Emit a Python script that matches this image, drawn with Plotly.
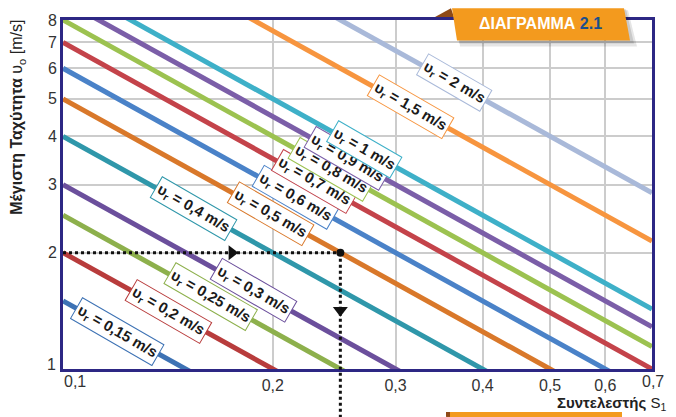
import numpy as np
import plotly.graph_objects as go

# ---------------- data ----------------
ur_values = [0.15, 0.2, 0.25, 0.3, 0.4, 0.5, 0.6, 0.7, 0.8, 0.9, 1.0, 1.5, 2.0]
ur_labels = ["0,15", "0,2", "0,25", "0,3", "0,4", "0,5", "0,6", "0,7", "0,8", "0,9", "1", "1,5", "2"]
line_colors = ["#3d72b4", "#b83c3c", "#8db04c", "#6b4f9c", "#2f97aa", "#d9782a", "#4a82c8",
               "#c4434a", "#9cc250", "#7b5ea8", "#3eb0c8", "#f7953f", "#a9b9d9"]
line_x = [0.1, 0.7]
uo_at_left = [1.5, 2.0, 2.5, 3.0, 4.0, 5.0, 6.0, 7.0, 8.0, 9.0, 10.0, 15.0, 20.0]
uo_at_right = [0.214, 0.286, 0.357, 0.429, 0.571, 0.714, 0.857, 1.0, 1.143, 1.286, 1.429, 2.143, 2.857]
label_s = [0.1196, 0.1417, 0.1627, 0.1879, 0.1538, 0.1982, 0.2158, 0.2297, 0.2429, 0.2561, 0.2707, 0.3147, 0.3639]
label_uo = [1.254, 1.41, 1.537, 1.597, 2.6, 2.52, 2.78, 3.05, 3.29, 3.51, 3.69, 4.77, 5.50]

example_s = 0.25
example_uo = 2.0
arrow_right_s = 0.1747
arrow_down_uo = 1.42

x_tickvals = [0.2, 0.3, 0.4, 0.5, 0.6]
x_ticktext = ["0,2", "0,3", "0,4", "0,5", "0,6"]
x_edge_labels = ["0,1", "0,7"]
y_tickvals = [2, 3, 4, 5, 6, 7, 8]
y_ticktext = ["2", "3", "4", "5", "6", "7", "8"]
y_edge_label = "1"

# ---------------- layout geometry ----------------
W, H = 676, 417
ML, MR, MT, MB = 63, 24, 12, 48
PW, PH = W - ML - MR, H - MT - MB
XR = [np.log10(0.1), np.log10(0.7)]
YR = [np.log10(1), np.log10(8)]


def P(px, py):
    return (px - ML) / PW, 1 - (py - MT) / PH


FONT = "Liberation Sans, Arial, sans-serif"
BORDER = "#2d2784"
TICKC = "#333333"

fig = go.Figure()

for u, c, y0, y1 in zip(ur_values, line_colors, uo_at_left, uo_at_right):
    fig.add_trace(go.Scatter(x=line_x, y=[y0, y1], mode="lines",
                             line=dict(color=c, width=5), hoverinfo="skip", showlegend=False))

# example path
fig.add_trace(go.Scatter(x=[0.1, example_s], y=[example_uo, example_uo], mode="lines",
                         line=dict(color="#111111", width=3, dash="dot"), showlegend=False))
fig.add_trace(go.Scatter(x=[arrow_right_s], y=[example_uo], mode="markers",
                         marker=dict(symbol="triangle-right", size=13, color="#111111"), showlegend=False))
fig.add_trace(go.Scatter(x=[example_s], y=[arrow_down_uo], mode="markers",
                         marker=dict(symbol="triangle-down", size=13, color="#111111"), showlegend=False))
fig.add_trace(go.Scatter(x=[example_s], y=[example_uo], mode="markers",
                         marker=dict(symbol="circle", size=8, color="#111111"), showlegend=False))

annotations = []
for s, uo, lab, c in zip(label_s, label_uo, ur_labels, line_colors):
    annotations.append(dict(
        x=np.log10(s), y=np.log10(uo), xref="x", yref="y",
        text="<b>υ<sub>r</sub> = " + lab + " m/s</b>", showarrow=False,
        textangle=30, xanchor="center", yanchor="middle",
        font=dict(family=FONT, size=15, color="#1a1a1a"),
        bgcolor="white", bordercolor=c, borderwidth=1, borderpad=2))

# axis titles
ax_, ay_ = P(18, 112)
annotations.append(dict(x=ax_, y=ay_, xref="paper", yref="paper", showarrow=False,
                        text="<b>Μέγιστη Ταχύτητα</b> υ<sub>ο</sub> [m/s]", textangle=-90,
                        xanchor="center", yanchor="middle",
                        font=dict(family=FONT, size=16, color="#222222")))
bx_, by_ = P(668, 404)
annotations.append(dict(x=bx_, y=by_, xref="paper", yref="paper", showarrow=False,
                        text="<b>Συντελεστής</b> S<sub>1</sub>",
                        xanchor="right", yanchor="middle",
                        font=dict(family=FONT, size=15, color="#222222")))
# edge tick labels
e1x, e1y = P(62, 382)
annotations.append(dict(x=e1x, y=e1y, xref="paper", yref="paper", showarrow=False,
                        text=x_edge_labels[0], xanchor="left", yanchor="middle",
                        font=dict(family=FONT, size=16, color=TICKC)))
e2x, e2y = P(653, 382)
annotations.append(dict(x=e2x, y=e2y, xref="paper", yref="paper", showarrow=False,
                        text=x_edge_labels[1], xanchor="center", yanchor="middle",
                        font=dict(family=FONT, size=16, color=TICKC)))
e3x, e3y = P(58, 364)
annotations.append(dict(x=e3x, y=e3y, xref="paper", yref="paper", showarrow=False,
                        text=y_edge_label, xanchor="right", yanchor="middle",
                        font=dict(family=FONT, size=16, color=TICKC)))
# banner text
tx, ty = P(540, 16)
annotations.append(dict(x=tx, y=ty, xref="paper", yref="paper", showarrow=False,
                        text="<b>ΔΙΑΓΡΑΜΜΑ <span style='color:#1b4f8c'>2.1</span></b>",
                        xanchor="center", yanchor="middle",
                        font=dict(family=FONT, size=16, color="white")))


def poly(pts):
    s = ""
    for i, (px, py) in enumerate(pts):
        x, y = P(px, py)
        s += ("M" if i == 0 else "L") + f"{x:.5f},{y:.5f} "
    return s + "Z"


shapes = []
# vertical dotted line of the example (goes below the axis)
vx = (np.log10(example_s) - XR[0]) / (XR[1] - XR[0])
vy0 = (np.log10(example_uo) - YR[0]) / (YR[1] - YR[0])
shapes.append(dict(type="line", xref="paper", yref="paper", x0=vx, x1=vx, y0=vy0, y1=P(0, 418)[1],
                   line=dict(color="#111111", width=3, dash="dot"), layer="above"))
# banner shadow
shapes.append(dict(type="path", xref="paper", yref="paper", layer="above",
                   path=poly([(456, 2), (628, 2), (637, 39), (460, 39)]),
                   fillcolor="rgba(0,0,0,0.10)", line=dict(width=0)))
shapes.append(dict(type="path", xref="paper", yref="paper", layer="above",
                   path=poly([(455, 1), (626, 1), (634, 36), (459, 36)]),
                   fillcolor="rgba(0,0,0,0.12)", line=dict(width=0)))
# banner fold
shapes.append(dict(type="path", xref="paper", yref="paper", layer="above",
                   path=poly([(435, 9), (451, 0), (454, 9)]),
                   fillcolor="#8e4a17", line=dict(width=0)))
# banner
shapes.append(dict(type="path", xref="paper", yref="paper", layer="above",
                   path=poly([(452, 0), (624, 0), (630, 33), (457, 33)]),
                   fillcolor="#f39a1e", line=dict(width=0)))
# bottom orange bar
shapes.append(dict(type="path", xref="paper", yref="paper", layer="above",
                   path=poly([(447, 413), (622, 413), (622, 418), (447, 418)]),
                   fillcolor="#f39a1e", line=dict(width=0)))
shapes.append(dict(type="path", xref="paper", yref="paper", layer="above",
                   path=poly([(446, 413), (450, 413), (450, 418), (446, 418)]),
                   fillcolor="#8e4a17", line=dict(width=0)))

fig.update_layout(
    width=W, height=H,
    margin=dict(l=ML, r=MR, t=MT, b=MB),
    paper_bgcolor="white", plot_bgcolor="white",
    showlegend=False,
    font=dict(family=FONT),
    xaxis=dict(type="log", range=XR, tickvals=x_tickvals, ticktext=x_ticktext,
               showgrid=True, gridcolor="#cccccc", gridwidth=1.5,
               showline=True, mirror=True, linecolor=BORDER, linewidth=3,
               ticks="", zeroline=False, tickfont=dict(family=FONT, size=16, color=TICKC)),
    yaxis=dict(type="log", range=YR, tickvals=y_tickvals, ticktext=y_ticktext,
               showgrid=True, gridcolor="#cccccc", gridwidth=1.5,
               showline=True, mirror=True, linecolor=BORDER, linewidth=3,
               ticks="", zeroline=False, tickfont=dict(family=FONT, size=16, color=TICKC)),
    annotations=annotations,
    shapes=shapes,
)

fig.write_html("out.html", config={"displayModeBar": False},
               post_script="document.body.style.margin='0px';")
